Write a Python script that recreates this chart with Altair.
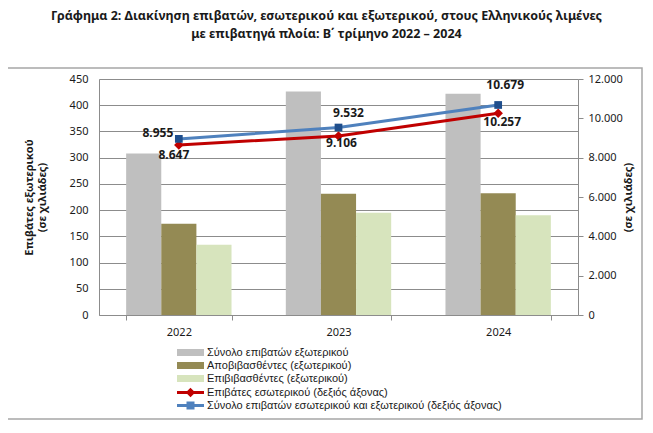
import altair as alt
import pandas as pd

# ---- data ----
years = ["2022", "2023", "2024"]
bar_series = [
    "Σύνολο επιβατών εξωτερικού",
    "Αποβιβασθέντες (εξωτερικού)",
    "Επιβιβασθέντες (εξωτερικού)",
]
total_ext = [308, 426, 422]
disembarked = [174, 231, 232]
embarked = [134, 195, 190]

line_series = [
    "Επιβάτες εσωτερικού (δεξιός άξονας)",
    "Σύνολο επιβατών εσωτερικού και εξωτερικού (δεξιός άξονας)",
]
domestic = [8647, 9106, 10257]
total_all = [8955, 9532, 10679]

left_ticks = [0, 50, 100, 150, 200, 250, 300, 350, 400, 450]
right_ticks = [0, 2000, 4000, 6000, 8000, 10000, 12000]

title_lines = [
    "Γράφημα 2: Διακίνηση επιβατών, εσωτερικού και εξωτερικού, στους Ελληνικούς λιμένες",
    "με επιβατηγά πλοία: Β΄ τρίμηνο 2022 – 2024",
]

# ---- tables ----
bar_rows = []
for s, vals in zip(bar_series, [total_ext, disembarked, embarked]):
    for y, v in zip(years, vals):
        bar_rows.append({"year": y, "series": s, "value": v})
bars_df = pd.DataFrame(bar_rows)

line_rows = []
for s, vals in zip(line_series, [domestic, total_all]):
    for y, v in zip(years, vals):
        line_rows.append({"year": y, "series": s, "value": v})
lines_df = pd.DataFrame(line_rows)

FONT = "Noto Sans"
LEG_FONT = "Liberation Sans"
TXT = "#1a1a1a"
bar_colors = ["#BFBFBF", "#948A54", "#D7E4BD"]
line_colors = ["#C00000", "#4F81BD"]
legend_fills = ["#C00000", "#4F81BD"]
GRID = "#8C8C8C"

# label placement (style): per series, per year pixel offsets
label_offsets = {
    line_series[1]: [(-21, -6), (10, -15), (7, -20)],
    line_series[0]: [(-5, 10), (3, 7), (4, 9)],
}

x_enc = alt.X(
    "year:N",
    sort=years,
    scale=alt.Scale(paddingInner=0.34, paddingOuter=0.17),
    axis=alt.Axis(
        title=None, labelAngle=0, tickBand="extent", tickSize=5,
        domainColor=GRID, tickColor=GRID, labelFontSize=11, labelColor=TXT,
        labelPadding=6, labelFont=FONT,
    ),
)

bar_path = "M-2.7,-0.7L2.7,-0.7L2.7,0.7L-2.7,0.7Z"
diamond_path = "M-2.7,-0.3L2.7,-0.3L2.7,0.3L-2.7,0.3Z M0,-0.95L0.95,0L0,0.95L-0.95,0Z"
square_path = "M-2.7,-0.3L2.7,-0.3L2.7,0.3L-2.7,0.3Z M-0.8,-0.8L0.8,-0.8L0.8,0.8L-0.8,0.8Z"

legend_common = dict(
    title=None, orient="none", legendX=86, direction="vertical",
    symbolSize=100, symbolStrokeWidth=0, padding=0, rowPadding=1, labelOffset=11,
    labelFontSize=11, labelFont=LEG_FONT, labelColor=TXT, labelLimit=0,
)

bars = alt.Chart(bars_df).mark_bar().encode(
    x=x_enc,
    xOffset=alt.XOffset("series:N", sort=bar_series,
                        scale=alt.Scale(domain=bar_series, paddingInner=0, paddingOuter=0)),
    y=alt.Y(
        "value:Q",
        scale=alt.Scale(domain=[0, 450], nice=False),
        axis=alt.Axis(
            orient="left", values=left_ticks, grid=True, gridColor=GRID,
            ticks=False, domainColor=GRID, labelPadding=11, labelFontSize=11,
            labelColor=TXT, labelFont=FONT, labelOverlap=False,
            title=["Επιβάτες εξωτερικού", "(σε χιλιάδες)"], titleFont=FONT,
            titleFontSize=11, titleFontWeight="bold", titleColor=TXT, titlePadding=22,
        ),
    ),
    color=alt.Color(
        "series:N",
        scale=alt.Scale(domain=bar_series, range=bar_colors),
        legend=alt.Legend(legendY=268, symbolType=bar_path, **legend_common),
    ),
)

right_y = alt.Y(
    "value:Q",
    scale=alt.Scale(domain=[0, 12000], nice=False),
    axis=alt.Axis(
        orient="right", values=right_ticks, format=",.0f", grid=False,
        tickSize=5, tickColor=GRID, domainColor=GRID, labelPadding=5, labelFontSize=11,
        labelColor=TXT, labelFont=FONT, labelOverlap=False, labelBound=False,
        title="(σε χιλιάδες)", titleAngle=270,
        titleFont=FONT, titleFontSize=11, titleFontWeight="bold", titleColor=TXT,
        titlePadding=11,
    ),
)
x_line = alt.X("year:N", sort=years)

line_color = alt.Color("series:N", scale=alt.Scale(domain=line_series, range=line_colors), legend=None)

lines = alt.Chart(lines_df).mark_line(strokeWidth=3).encode(
    x=x_line, y=right_y, color=line_color
)

red_pts = alt.Chart(lines_df).transform_filter(
    alt.datum.series == line_series[0]
).mark_point(shape="diamond", filled=True, size=90, color="#C00000", opacity=1).encode(
    x=x_line, y=right_y
)
blue_pts = alt.Chart(lines_df).transform_filter(
    alt.datum.series == line_series[1]
).mark_point(shape="square", filled=True, size=60, color="#1F4E8C", opacity=1).encode(
    x=x_line, y=right_y
)

# legend-only layer (no marks drawn): line + marker symbols
legend_layer = alt.Chart(lines_df).transform_filter("false").mark_point(filled=True, opacity=1).encode(
    x=x_line,
    y=right_y,
    fill=alt.Fill(
        "series:N",
        scale=alt.Scale(domain=line_series, range=legend_fills),
        legend=alt.Legend(legendY=308, **legend_common),
    ),
    shape=alt.Shape(
        "series:N",
        scale=alt.Scale(domain=line_series, range=[diamond_path, square_path]),
        legend=alt.Legend(legendY=308, **legend_common),
    ),
)

text_layers = []
for s, offs in label_offsets.items():
    for yr, (dx, dy) in zip(years, offs):
        text_layers.append(
            alt.Chart(lines_df).transform_filter(
                (alt.datum.series == s) & (alt.datum.year == yr)
            ).mark_text(fontWeight="bold", fontSize=12, font=FONT, dx=dx, dy=dy, color=TXT).encode(
                x=x_line, y=right_y, text=alt.Text("value:Q", format=",.0f")
            )
        )

right_layer = alt.layer(lines, red_pts, blue_pts, *text_layers, legend_layer)

frame = alt.Chart(pd.DataFrame({"k": [0]})).mark_rect(
    fillOpacity=0, stroke="#A6A6A6", strokeWidth=1.5
).encode(
    x=alt.value(-93), x2=alt.value(543), y=alt.value(-11), y2=alt.value(340)
)

chart = alt.layer(bars, right_layer, frame).resolve_scale(
    y="independent", color="independent"
).properties(
    width=479,
    height=236,
    padding={"left": 91, "top": 71, "right": 67, "bottom": 110},
    autosize=alt.AutoSizeParams(type="none"),
    title=alt.TitleParams(
        text=title_lines, font=FONT, fontSize=12.5, fontWeight="bold", color=TXT,
        anchor="middle", dx=-12, offset=27, lineHeight=18,
    ),
).configure_view(strokeWidth=0).configure(
    locale={"number": {"decimal": ",", "thousands": ".", "grouping": [3], "currency": ["", " €"]}}
)

chart.save("out.html", embed_options={"renderer": "svg", "actions": False})
